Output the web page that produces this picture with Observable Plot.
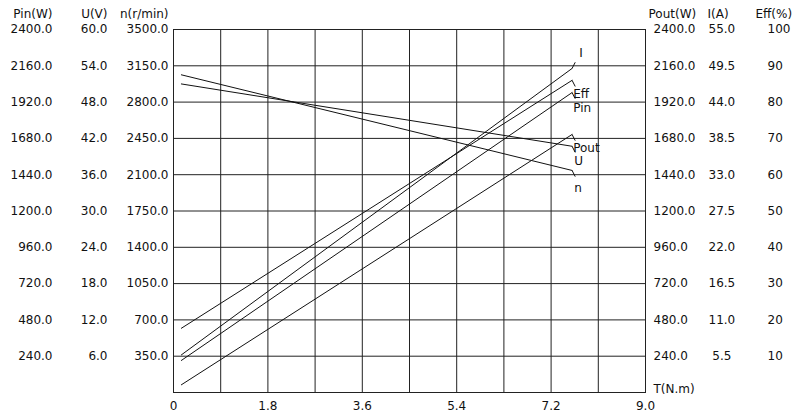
<!DOCTYPE html>
<html>
<head>
<meta charset="utf-8">
<script src="https://cdn.jsdelivr.net/npm/d3@7"></script>
<script src="https://cdn.jsdelivr.net/npm/@observablehq/plot@0.6"></script>
<style>
  html, body { margin: 0; padding: 0; background: #fff; }
  svg { font-family: "DejaVu Sans", Verdana, sans-serif; }
</style>
</head>
<body>
<div id="chart"></div>
<script>
// ---- data ----
const torque = [0.15, 7.6];          // T (N.m)
const pinW   = [212, 1983];          // input power (W)
const uV     = [51.0, 40.7];         // voltage (V)
const nRpm   = [3063, 2141];         // speed (r/min)
const poutW  = [51, 1706];           // output power (W)
const iA     = [5.7, 49.1];          // current (A)
const effPct = [17.7, 86.0];         // efficiency (%)

// tick labels
const xTicks    = [0, 1.8, 3.6, 5.4, 7.2, 9.0];
const xGrid     = [0.9, 1.8, 2.7, 3.6, 4.5, 5.4, 6.3, 7.2, 8.1];
const pinTicks  = [240, 480, 720, 960, 1200, 1440, 1680, 1920, 2160, 2400];
const uTicks    = [6, 12, 18, 24, 30, 36, 42, 48, 54, 60];
const nTicks    = [350, 700, 1050, 1400, 1750, 2100, 2450, 2800, 3150, 3500];
const poutTicks = [240, 480, 720, 960, 1200, 1440, 1680, 1920, 2160, 2400];
const iTicks    = [5.5, 11, 16.5, 22, 27.5, 33, 38.5, 44, 49.5, 55];
const effTicks  = [10, 20, 30, 40, 50, 60, 70, 80, 90, 100];

const leftHeaders  = ["Pin(W)", "U(V)", "n(r/min)"];
const rightHeaders = ["Pout(W)", "I(A)", "Eff(%)"];

// series (values normalized by the maximum of their own axis)
const series = [
  {name: "I",    values: iA,     max: iTicks[iTicks.length - 1]},
  {name: "Eff",  values: effPct, max: effTicks[effTicks.length - 1]},
  {name: "Pin",  values: pinW,   max: pinTicks[pinTicks.length - 1]},
  {name: "Pout", values: poutW,  max: poutTicks[poutTicks.length - 1]},
  {name: "U",    values: uV,     max: uTicks[uTicks.length - 1]},
  {name: "n",    values: nRpm,   max: nTicks[nTicks.length - 1]}
];

// label leader styling (direction and text offset, pixels)
const leaderStyle = {
  I:    {up: true,  dx: 4,  dy: -9},
  Eff:  {up: false, dx: -2, dy: 8},
  Pin:  {up: false, dx: -2, dy: 9},
  Pout: {up: false, dx: -2, dy: 8},
  U:    {up: false, dx: -1, dy: 9},
  n:    {up: false, dx: -1, dy: 12}
};
const leftHeaderDx  = [-121, -66, -5];
const rightHeaderDx = [3, 62, 110];

const rows = series.flatMap(s => torque.map((t, i) => ({name: s.name, T: t, v: s.values[i] / s.max})));
const ends = series.map(s => {
  const st = leaderStyle[s.name];
  const v = s.values[s.values.length - 1] / s.max;
  return {
    name: s.name,
    T: torque[torque.length - 1],
    v,
    T2: torque[torque.length - 1] + 0.06,
    v2: v + (st.up ? 0.017 : -0.017)
  };
});

const fmt1 = d => d.toFixed(1);
const yAxis = (ticks, max, anchor, dx, format, padding) =>
  Plot.axisY(ticks.map(t => t / max), {
    anchor, tickSize: 0, tickPadding: padding, dx,
    tickFormat: d => format(d * max), fill: "#111", fontSize: 12, label: null
  });

const chart = Plot.plot({
  width: 800,
  height: 420,
  marginLeft: 173,
  marginRight: 155,
  marginTop: 29,
  marginBottom: 28,
  style: {fontFamily: "DejaVu Sans, Verdana, sans-serif", fontSize: "12px", background: "#fff", color: "#111"},
  x: {domain: [0, 9], label: null},
  y: {domain: [0, 1], label: null},
  marks: [
    Plot.gridX(xGrid, {stroke: "#222", strokeOpacity: 1, strokeWidth: 1}),
    Plot.gridY(pinTicks.slice(0, -1).map(t => t / 2400), {stroke: "#222", strokeOpacity: 1, strokeWidth: 1}),
    Plot.frame({stroke: "#222", strokeWidth: 1}),
    Plot.axisX(xTicks, {tickSize: 0, tickPadding: 9, tickFormat: d => d === 0 ? "0" : d.toFixed(1), fill: "#111", fontSize: 12, label: null}),
    // left axes
    yAxis(nTicks, 3500, "left", 0, fmt1, 5),
    yAxis(uTicks, 60, "left", -61, fmt1, 5),
    yAxis(pinTicks, 2400, "left", -116, fmt1, 5),
    // right axes
    yAxis(poutTicks, 2400, "right", 0, fmt1, 8),
    yAxis(iTicks, 55, "right", 55, d => (d < 10 ? "\u00A0" : "") + d.toFixed(1), 8),
    yAxis(effTicks, 100, "right", 114, d => d.toFixed(0), 8),
    // curves
    Plot.line(rows, {x: "T", y: "v", z: "name", stroke: "#111", strokeWidth: 1}),
    Plot.link(ends, {x1: "T", y1: "v", x2: "T2", y2: "v2", stroke: "#111", strokeWidth: 1}),
    ...ends.map(e => Plot.text([e], {x: "T2", y: "v2", text: "name", textAnchor: "start",
      dx: leaderStyle[e.name].dx, dy: leaderStyle[e.name].dy, fill: "#111", fontSize: 12})),
    // headers
    ...leftHeaders.map((h, i) => Plot.text([h], {text: d => d, frameAnchor: "top-left", textAnchor: "end",
      dx: leftHeaderDx[i], dy: -20, fill: "#111", fontSize: 12})),
    ...rightHeaders.map((h, i) => Plot.text([h], {text: d => d, frameAnchor: "top-right", textAnchor: "start",
      dx: rightHeaderDx[i], dy: -20, fill: "#111", fontSize: 12})),
    Plot.text(["T(N.m)"], {text: d => d, frameAnchor: "bottom-right", textAnchor: "start", dx: 8, fill: "#111", fontSize: 12})
  ]
});
document.getElementById("chart").appendChild(chart);
</script>
</body>
</html>
